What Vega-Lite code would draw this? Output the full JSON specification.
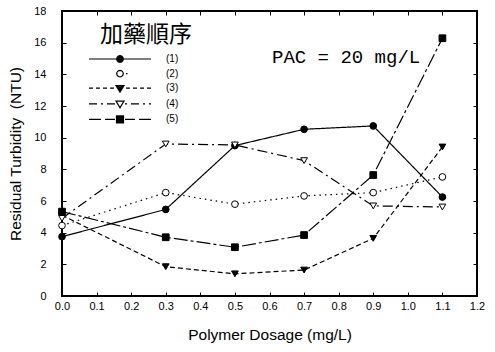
{
  "$schema": "https://vega.github.io/schema/vega-lite/v6.json",
  "autosize": "none",
  "width": 415,
  "height": 285,
  "padding": {"left": 62, "top": 11, "right": 18, "bottom": 56},
  "background": "white",
  "title": {"text": "PAC = 20 mg/L", "orient": "top", "anchor": "start", "frame": "group", "offset": 0, "dx": 210, "dy": 77, "baseline": "alphabetic", "font": "Liberation Mono", "fontSize": 19, "fontWeight": "normal", "color": "black"},
  "data": {"values": [
    {"dose": 0.0, "ntu": 3.75, "series": "(1)"},
    {"dose": 0.3, "ntu": 5.47, "series": "(1)"},
    {"dose": 0.5, "ntu": 9.5, "series": "(1)"},
    {"dose": 0.7, "ntu": 10.53, "series": "(1)"},
    {"dose": 0.9, "ntu": 10.74, "series": "(1)"},
    {"dose": 1.1, "ntu": 6.25, "series": "(1)"},
    {"dose": 0.0, "ntu": 4.45, "series": "(2)"},
    {"dose": 0.3, "ntu": 6.53, "series": "(2)"},
    {"dose": 0.5, "ntu": 5.8, "series": "(2)"},
    {"dose": 0.7, "ntu": 6.32, "series": "(2)"},
    {"dose": 0.9, "ntu": 6.53, "series": "(2)"},
    {"dose": 1.1, "ntu": 7.52, "series": "(2)"},
    {"dose": 0.0, "ntu": 5.1, "series": "(3)"},
    {"dose": 0.3, "ntu": 1.85, "series": "(3)"},
    {"dose": 0.5, "ntu": 1.4, "series": "(3)"},
    {"dose": 0.7, "ntu": 1.64, "series": "(3)"},
    {"dose": 0.9, "ntu": 3.64, "series": "(3)"},
    {"dose": 1.1, "ntu": 9.41, "series": "(3)"},
    {"dose": 0.0, "ntu": 4.9, "series": "(4)"},
    {"dose": 0.3, "ntu": 9.6, "series": "(4)"},
    {"dose": 0.5, "ntu": 9.54, "series": "(4)"},
    {"dose": 0.7, "ntu": 8.55, "series": "(4)"},
    {"dose": 0.9, "ntu": 5.69, "series": "(4)"},
    {"dose": 1.1, "ntu": 5.62, "series": "(4)"},
    {"dose": 0.0, "ntu": 5.33, "series": "(5)"},
    {"dose": 0.3, "ntu": 3.71, "series": "(5)"},
    {"dose": 0.5, "ntu": 3.08, "series": "(5)"},
    {"dose": 0.7, "ntu": 3.85, "series": "(5)"},
    {"dose": 0.9, "ntu": 7.64, "series": "(5)"},
    {"dose": 1.1, "ntu": 16.28, "series": "(5)"}
  ]},
  "layer": [
    {
      "mark": {"type": "line", "color": "black", "strokeWidth": 1.2},
      "encoding": {
        "x": {"field": "dose", "type": "quantitative", "scale": {"domain": [0, 1.2], "nice": false, "zero": false},
          "axis": {"title": "Polymer Dosage (mg/L)", "values": [0, 0.1, 0.2, 0.3, 0.4, 0.5, 0.6, 0.7, 0.8, 0.9, 1.0, 1.1, 1.2], "format": ".1f", "domain": false, "grid": false, "tickSize": -4, "tickColor": "black", "tickWidth": 1, "labelPadding": 8, "labelFont": "Liberation Sans", "labelFontSize": 11, "labelColor": "black", "labelFlush": false, "labelOverlap": false, "titleFont": "Liberation Sans", "titleFontSize": 15.5, "titleFontWeight": "normal", "titleColor": "black", "titlePadding": 16}},
        "y": {"field": "ntu", "type": "quantitative", "scale": {"domain": [0, 18], "nice": false},
          "axis": {"title": "Residual Turbidity\u00a0 (NTU)", "values": [0, 2, 4, 6, 8, 10, 12, 14, 16, 18], "domain": false, "grid": false, "tickSize": -4, "tickColor": "black", "tickWidth": 1, "labelPadding": 20, "labelFont": "Liberation Sans", "labelFontSize": 11, "labelColor": "black", "labelFlush": false, "labelOverlap": false, "titleFont": "Liberation Sans", "titleFontSize": 15.5, "titleFontWeight": "normal", "titleColor": "black", "titlePadding": 10}},
        "strokeDash": {"field": "series", "type": "nominal", "legend": null,
          "scale": {"range": [[1, 0], [1.5, 4], [5, 3], [10, 4, 2, 4], [14, 3, 3, 3]]}},
        "detail": {"field": "series"}
      }
    },
    {
      "mark": {"type": "point", "filled": true, "stroke": "black", "strokeWidth": 1, "size": 45, "opacity": 1},
      "encoding": {
        "x": {"field": "dose", "type": "quantitative",
          "axis": {"title": null, "labels": false, "values": [0, 0.1, 0.2, 0.3, 0.4, 0.5, 0.6, 0.7, 0.8, 0.9, 1.0, 1.1, 1.2], "domain": false, "grid": false, "tickSize": -4, "tickColor": "black"}},
        "y": {"field": "ntu", "type": "quantitative",
          "axis": {"title": null, "labels": false, "values": [0, 2, 4, 6, 8, 10, 12, 14, 16, 18], "domain": false, "grid": false, "tickSize": -4, "tickColor": "black"}},
        "shape": {"field": "series", "type": "nominal", "legend": null,
          "scale": {"range": ["circle", "circle", "triangle-down", "triangle-down", "square"]}},
        "fill": {"field": "series", "type": "nominal",
          "scale": {"domain": ["(1)", "(2)", "(3)", "(4)", "(5)"], "range": ["black", "white", "black", "white", "black"]},
          "legend": {
            "title": "加藥順序", "orient": "none", "legendX": 38, "legendY": 13, "padding": 0,
            "titleFont": "Noto Sans CJK TC", "titleFontSize": 23, "titleFontWeight": "normal", "titleColor": "black", "titlePadding": 7,
            "labelFont": "Liberation Sans", "labelFontSize": 10, "labelColor": "black", "labelOffset": 56,
            "symbolSize": 4, "symbolStrokeWidth": 1.2, "symbolStrokeColor": "black", "rowPadding": 2.6,
            "symbolType": {"expr": "datum.value === '(1)' ? 'M-16,0H11.7M18.3,0H46M18.3,0L17.86,1.65L16.65,2.86L15,3.3L13.35,2.86L12.14,1.65L11.7,0L12.14,-1.65L13.35,-2.86L15,-3.3L16.65,-2.86L17.86,-1.65Z' : datum.value === '(2)' ? 'M18.3,0L17.86,1.65L16.65,2.86L15,3.3L13.35,2.86L12.14,1.65L11.7,0L12.14,-1.65L13.35,-2.86L15,-3.3L16.65,-2.86L17.86,-1.65ZM21,0H22.5' : datum.value === '(3)' ? 'M-16,0H-12M-9,0H-5M-2,0H2M5,0H9M21,0H25M28,0H32M35,0H39M42,0H46M11,-2.7L19,-2.7L15,4Z' : datum.value === '(4)' ? 'M-16,0H-8M-4,0H-2M2,0H10M20,0H22M26,0H34M38,0H40M44,0H46M11,-2.7L19,-2.7L15,4Z' : 'M-16,0H-4M0,0H10M20,0H30M34,0H46M11.5,-3.5H18.5V3.5H11.5Z'"},
            "encode": {"symbols": {
              "stroke": {"value": "black"},
              "strokeWidth": {"value": 1.2},
              "opacity": {"value": 1}
            }}
          }}
      }
    }
  ],
  "resolve": {"axis": {"x": "independent", "y": "independent"}},
  "config": {
    "view": {"stroke": "black", "strokeWidth": 2},
    "font": "Liberation Sans"
  }
}
